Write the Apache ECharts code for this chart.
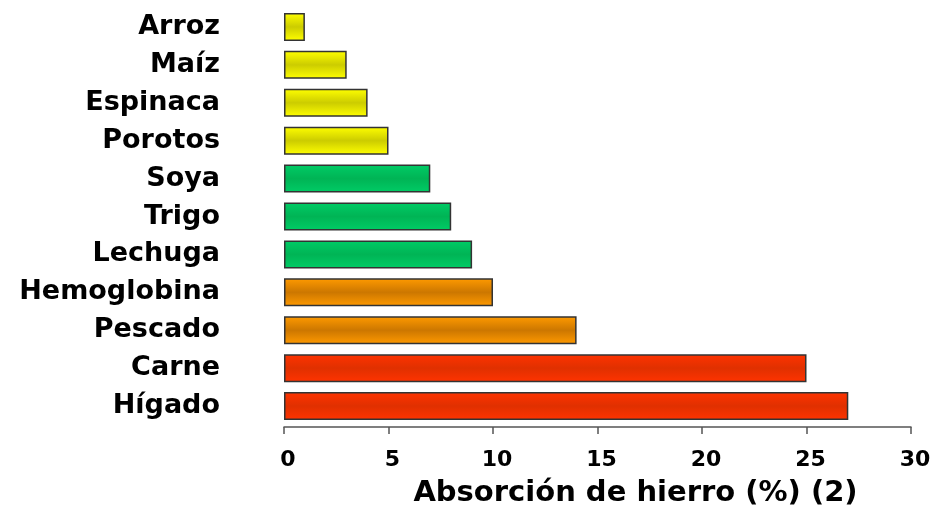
<!DOCTYPE html>
<html>
<head>
<meta charset="utf-8">
<script src="https://cdn.jsdelivr.net/npm/echarts@6/dist/echarts.min.js"></script>
<style>
  html, body { margin: 0; padding: 0; background: #ffffff; }
  #chart { width: 931px; height: 512px; }
</style>
</head>
<body>
<div id="chart"></div>
<script>
// Foods, top to bottom as listed
const foods = ['Arroz', 'Maíz', 'Espinaca', 'Porotos', 'Soya', 'Trigo', 'Lechuga', 'Hemoglobina', 'Pescado', 'Carne', 'Hígado'];
// Iron absorption (%)
const absorption = [1, 3, 4, 5, 7, 8, 9, 10, 14, 25, 27];
// Colour group of each food
const groups = ['yellow', 'yellow', 'yellow', 'yellow', 'green', 'green', 'green', 'orange', 'orange', 'red', 'red'];
const xTicks = [0, 5, 10, 15, 20, 25, 30];

// Edge / centre colours for the banded bar fill
const palette = {
  yellow: ['#ffff00', '#cccc00'],
  green: ['#00cc66', '#00b455'],
  orange: ['#ff9a00', '#cc7700'],
  red: ['#ff3300', '#e03000']
};

function bandFill(g) {
  const [edge, mid] = palette[g];
  return new echarts.graphic.LinearGradient(0, 0, 0, 1, [
    { offset: 0, color: edge },
    { offset: 0.5, color: mid },
    { offset: 1, color: edge }
  ]);
}

const chart = echarts.init(document.getElementById('chart'));
const font = 'DejaVu Sans, Verdana, sans-serif';

chart.setOption({
  animation: false,
  backgroundColor: '#ffffff',
  grid: { left: 284, right: 20, top: 8, bottom: 87, outerBoundsMode: 'none', containLabel: false },
  xAxis: {
    type: 'value',
    min: xTicks[0],
    max: xTicks[xTicks.length - 1],
    interval: 5,
    offset: 2,
    splitLine: { show: false },
    axisLine: { show: true, lineStyle: { color: '#555555', width: 1.5 } },
    axisTick: { show: true, inside: false, length: 7, lineStyle: { color: '#555555', width: 1.5 } },
    axisLabel: {
      color: '#000000', fontFamily: font, fontWeight: 'bold', fontSize: 22,
      margin: 22, padding: [0, 0, 0, 8]
    },
    name: 'Absorción de hierro (%) (2)',
    nameLocation: 'middle',
    nameGap: 52,
    nameTextStyle: {
      color: '#000000', fontFamily: font, fontWeight: 'bold', fontSize: 29,
      padding: [0, 0, 0, 76]
    }
  },
  yAxis: {
    type: 'category',
    data: foods,
    inverse: true,
    axisLine: { show: false },
    axisTick: { show: false },
    splitLine: { show: false },
    axisLabel: {
      color: '#000000', fontFamily: font, fontWeight: 'bold', fontSize: 27,
      margin: 64
    }
  },
  series: [{
    type: 'bar',
    barWidth: 28,
    data: absorption.map((v, i) => ({
      value: v,
      itemStyle: { color: bandFill(groups[i]) }
    })),
    itemStyle: { borderColor: '#333333', borderWidth: 1.5 }
  }]
});
</script>
</body>
</html>
